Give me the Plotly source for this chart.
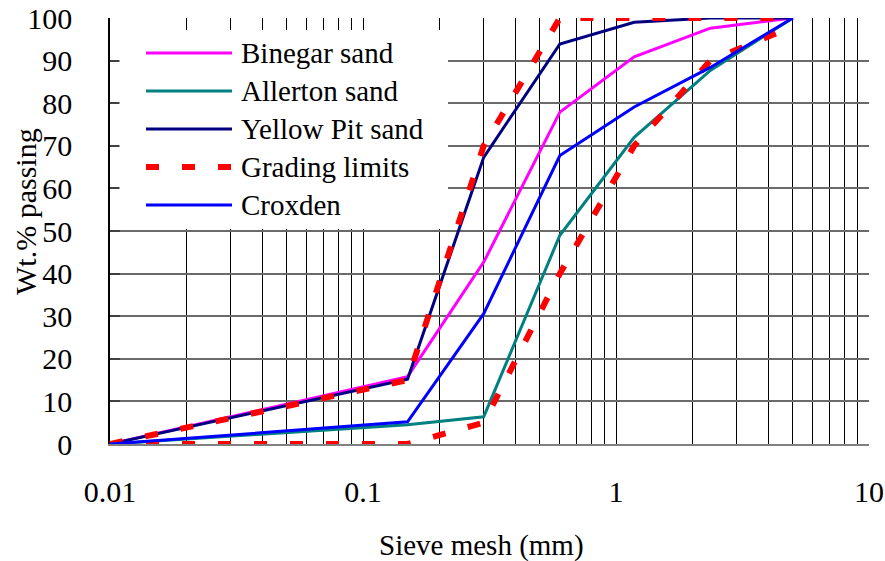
import plotly.graph_objects as go

# ---- data ----
sieve_mm = [0.01, 0.15, 0.3, 0.6, 1.18, 2.36, 5.0]
binegar = [0, 15.8, 42.7, 77.9, 90.9, 97.6, 100]
allerton = [0, 4.5, 6.4, 49, 72, 87.7, 100]
yellow_pit = [0, 15.2, 67.3, 93.9, 99, 100, 100]
grading_upper = [0, 15, 70, 100, 100, 100, 100]
grading_lower = [0, 0, 5, 40, 70, 90, 98]
croxden = [0, 5.2, 30.6, 67.7, 79.1, 88.4, 100]

x_tick_vals = [0.01, 0.1, 1, 10]
x_tick_text = ["0.01", "0.1", "1", "10"]
y_tick_vals = [0, 10, 20, 30, 40, 50, 60, 70, 80, 90, 100]

series_names = ["Binegar sand", "Allerton sand", "Yellow Pit sand", "Grading limits", "Croxden"]

# ---- styles ----
FONT = "Liberation Serif"
colors = {"Binegar sand": "#FF00FF", "Allerton sand": "#008080", "Yellow Pit sand": "#000080",
          "Grading limits": "#FF0000", "Croxden": "#0000FF"}
RED_DASH = "13px,23px"

W, H = 885, 561
L, R, T, B = 110, 869, 18, 444


def px(xp):
    return (xp - L) / (R - L)


def py(yp):
    return (B - yp) / (B - T)


fig = go.Figure()
solid = dict(width=3)
fig.add_trace(go.Scatter(x=sieve_mm, y=binegar, mode="lines", name="Binegar sand",
                         line=dict(color=colors["Binegar sand"], **solid)))
fig.add_trace(go.Scatter(x=sieve_mm, y=allerton, mode="lines", name="Allerton sand",
                         line=dict(color=colors["Allerton sand"], **solid)))
fig.add_trace(go.Scatter(x=sieve_mm, y=yellow_pit, mode="lines", name="Yellow Pit sand",
                         line=dict(color=colors["Yellow Pit sand"], **solid)))
fig.add_trace(go.Scatter(x=sieve_mm, y=grading_upper, mode="lines", name="Grading limits",
                         line=dict(color=colors["Grading limits"], width=6, dash=RED_DASH)))
fig.add_trace(go.Scatter(x=sieve_mm, y=grading_lower, mode="lines", name="Grading limits",
                         line=dict(color=colors["Grading limits"], width=6, dash=RED_DASH)))
fig.add_trace(go.Scatter(x=sieve_mm, y=croxden, mode="lines", name="Croxden",
                         line=dict(color=colors["Croxden"], **solid)))

minor_vals = [d * 10 ** e for e in (-2, -1, 0) for d in range(2, 10)]

fig.update_xaxes(type="log", range=[-2, 1], tickvals=x_tick_vals, ticktext=x_tick_text,
                 automargin=False,
                 showgrid=True, gridcolor="#000000", gridwidth=1,
                 minor=dict(tickvals=minor_vals, showgrid=True, gridcolor="#000000", gridwidth=1, ticks=""),
                 showline=True, linecolor="#808080", linewidth=2, zeroline=False,
                 ticks="", ticklabelstandoff=20,
                 tickfont=dict(family=FONT, size=30, color="#000000"))
fig.update_yaxes(range=[0, 100], tickvals=y_tick_vals,
                 automargin=False,
                 showgrid=True, gridcolor="#6a6a6a", gridwidth=1.5,
                 showline=True, linecolor="#000000", linewidth=1.5, zeroline=False,
                 ticks="inside", ticklen=10, tickcolor="#404040", tickwidth=1.5,
                 ticklabelstandoff=30,
                 tickfont=dict(family=FONT, size=30, color="#000000"))

shapes = []
annotations = []
# legend box (white, no border)
shapes.append(dict(type="rect", xref="paper", yref="paper", x0=px(119.5), x1=px(448), y0=py(229), y1=py(30),
                   fillcolor="white", line=dict(width=0), layer="above"))
for i, name in enumerate(series_names):
    yc = 53 + 38 * i
    if name == "Grading limits":
        ln = dict(color=colors[name], width=6, dash=RED_DASH)
    else:
        ln = dict(color=colors[name], width=3)
    shapes.append(dict(type="line", xref="paper", yref="paper", x0=px(146), x1=px(232),
                       y0=py(yc), y1=py(yc), line=ln, layer="above"))
    annotations.append(dict(text=name, xref="paper", yref="paper", x=px(239), y=py(yc),
                            xanchor="left", yanchor="middle", showarrow=False,
                            font=dict(family=FONT, size=29, color="#000000")))

annotations.append(dict(text="Sieve mesh (mm)", xref="paper", yref="paper", x=px(481), y=py(545),
                        xanchor="center", yanchor="middle", showarrow=False,
                        font=dict(family=FONT, size=29, color="#000000")))
annotations.append(dict(text="Wt.% passing", xref="paper", yref="paper", x=px(25), y=py(212),
                        xanchor="center", yanchor="middle", showarrow=False, textangle=-90,
                        font=dict(family=FONT, size=30, color="#000000")))

fig.update_layout(width=W, height=H, margin=dict(l=L, r=W - R, t=T, b=H - B, autoexpand=False),
                  paper_bgcolor="white", plot_bgcolor="white", showlegend=False,
                  shapes=shapes, annotations=annotations)

fig.write_html("out.html", config={"displayModeBar": False},
               post_script="document.body.style.margin='0';document.body.style.padding='0';"
                           "document.documentElement.style.overflow='hidden';")
